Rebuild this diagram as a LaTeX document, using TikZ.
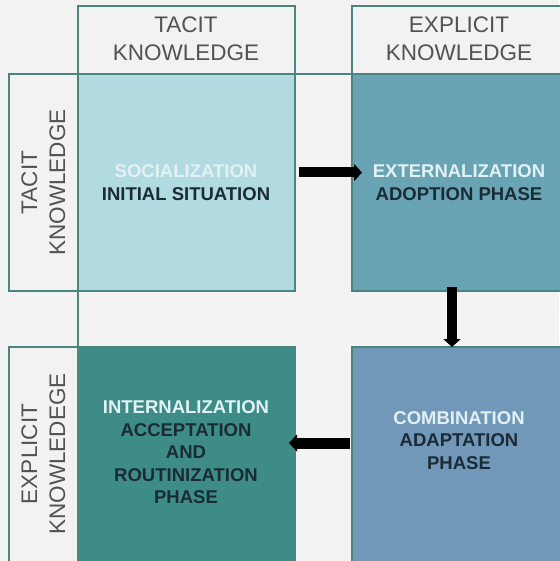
\documentclass[tikz,border=0pt]{standalone}
\usepackage{fontspec}
\setmainfont{Liberation Sans}
\usetikzlibrary{arrows.meta}
\definecolor{bg}{HTML}{F4F3F3}
\definecolor{edge}{HTML}{4A8580}
\definecolor{hdrfill}{HTML}{F2F2F2}
\definecolor{hdrtext}{HTML}{525252}
\definecolor{socfill}{HTML}{B2DAE1}
\definecolor{extfill}{HTML}{68A4B3}
\definecolor{intfill}{HTML}{3E8C88}
\definecolor{comfill}{HTML}{7197B9}
\definecolor{darktext}{HTML}{1B2B36}
\definecolor{lighttext}{HTML}{E2F1F4}
\tikzset{
  cell/.style={draw=edge, line width=1.2pt, inner sep=0pt, outer sep=0pt, anchor=north west},
  hdr/.style={font=\fontsize{22.5}{28}\selectfont, text=hdrtext, align=center, inner sep=0pt},
  body/.style={font=\bfseries\fontsize{18.5}{22.5}\selectfont, text=darktext, align=center, inner sep=0pt},
  bigarrow/.style={draw=black, line width=10pt, -{Triangle[length=8pt,width=17pt]}}
}
\begin{document}
\begin{tikzpicture}[x=1pt,y=-1pt]
\useasboundingbox (0,0) rectangle (559,561);
\fill[bg] (0,0) rectangle (559,561);
% header boxes
\node[cell, fill=hdrfill, minimum width=217pt, minimum height=68pt] (colA) at (78,6) {};
\node[cell, fill=hdrfill, minimum width=210pt, minimum height=68pt] (colB) at (352,6) {};
% row bands
\node[cell, fill=hdrfill, minimum width=560pt, minimum height=217pt] (rowA) at (9,74) {};
\node[cell, fill=hdrfill, minimum width=69pt, minimum height=216pt] (rowB) at (9,347) {};
% gap fill of top band between cells
\fill[bg] (295.6,74.6) rectangle (351.4,291.6);
\draw[edge, line width=1.2pt] (colA.south west) -- (78,347);
% cells
\node[cell, fill=socfill, minimum width=217pt, minimum height=217pt] (soc) at (78,74) {};
\node[cell, fill=extfill, minimum width=210pt, minimum height=217pt] (ext) at (352,74) {};
\node[cell, fill=intfill, minimum width=217pt, minimum height=216pt] (int) at (78,347) {};
\node[cell, fill=comfill, minimum width=210pt, minimum height=216pt] (com) at (352,347) {};
% header texts
\node[hdr] (colAt) at (186,39) {TACIT\\KNOWLEDGE};
\node[hdr] (colBt) at (459,39) {EXPLICIT\\KNOWLEDGE};
\node[hdr, rotate=90] (rowAt) at (43.5,182.5) {TACIT\\KNOWLEDGE};
\node[hdr, rotate=90] (rowBt) at (43.5,454) {EXPLICIT\\KNOWLEDEGE};
% body texts
\node[body] (soct) at (186,182.5) {{\color{lighttext}SOCIALIZATION}\\INITIAL SITUATION};
\node[body] (extt) at (459,182.5) {{\color{lighttext}EXTERNALIZATION}\\ADOPTION PHASE};
\node[body] (intt) at (186,452.5) {{\color{lighttext}INTERNALIZATION}\\ACCEPTATION\\AND\\ROUTINIZATION\\PHASE};
\node[body] (comt) at (459,440.5) {{\color{lighttext}COMBINATION}\\ADAPTATION\\PHASE};
% arrows
\coordinate (a1s) at (299,172.5);
\coordinate (a1e) at (362,172.5);
\coordinate (a2s) at (452,287);
\coordinate (a2e) at (452,347);
\coordinate (a3s) at (350,443);
\coordinate (a3e) at (289,443);
\draw[bigarrow] (a1s) -- (a1e);
\draw[bigarrow] (a2s) -- (a2e);
\draw[bigarrow, line width=11pt] (a3s) -- (a3e);
\end{tikzpicture}
\end{document}
